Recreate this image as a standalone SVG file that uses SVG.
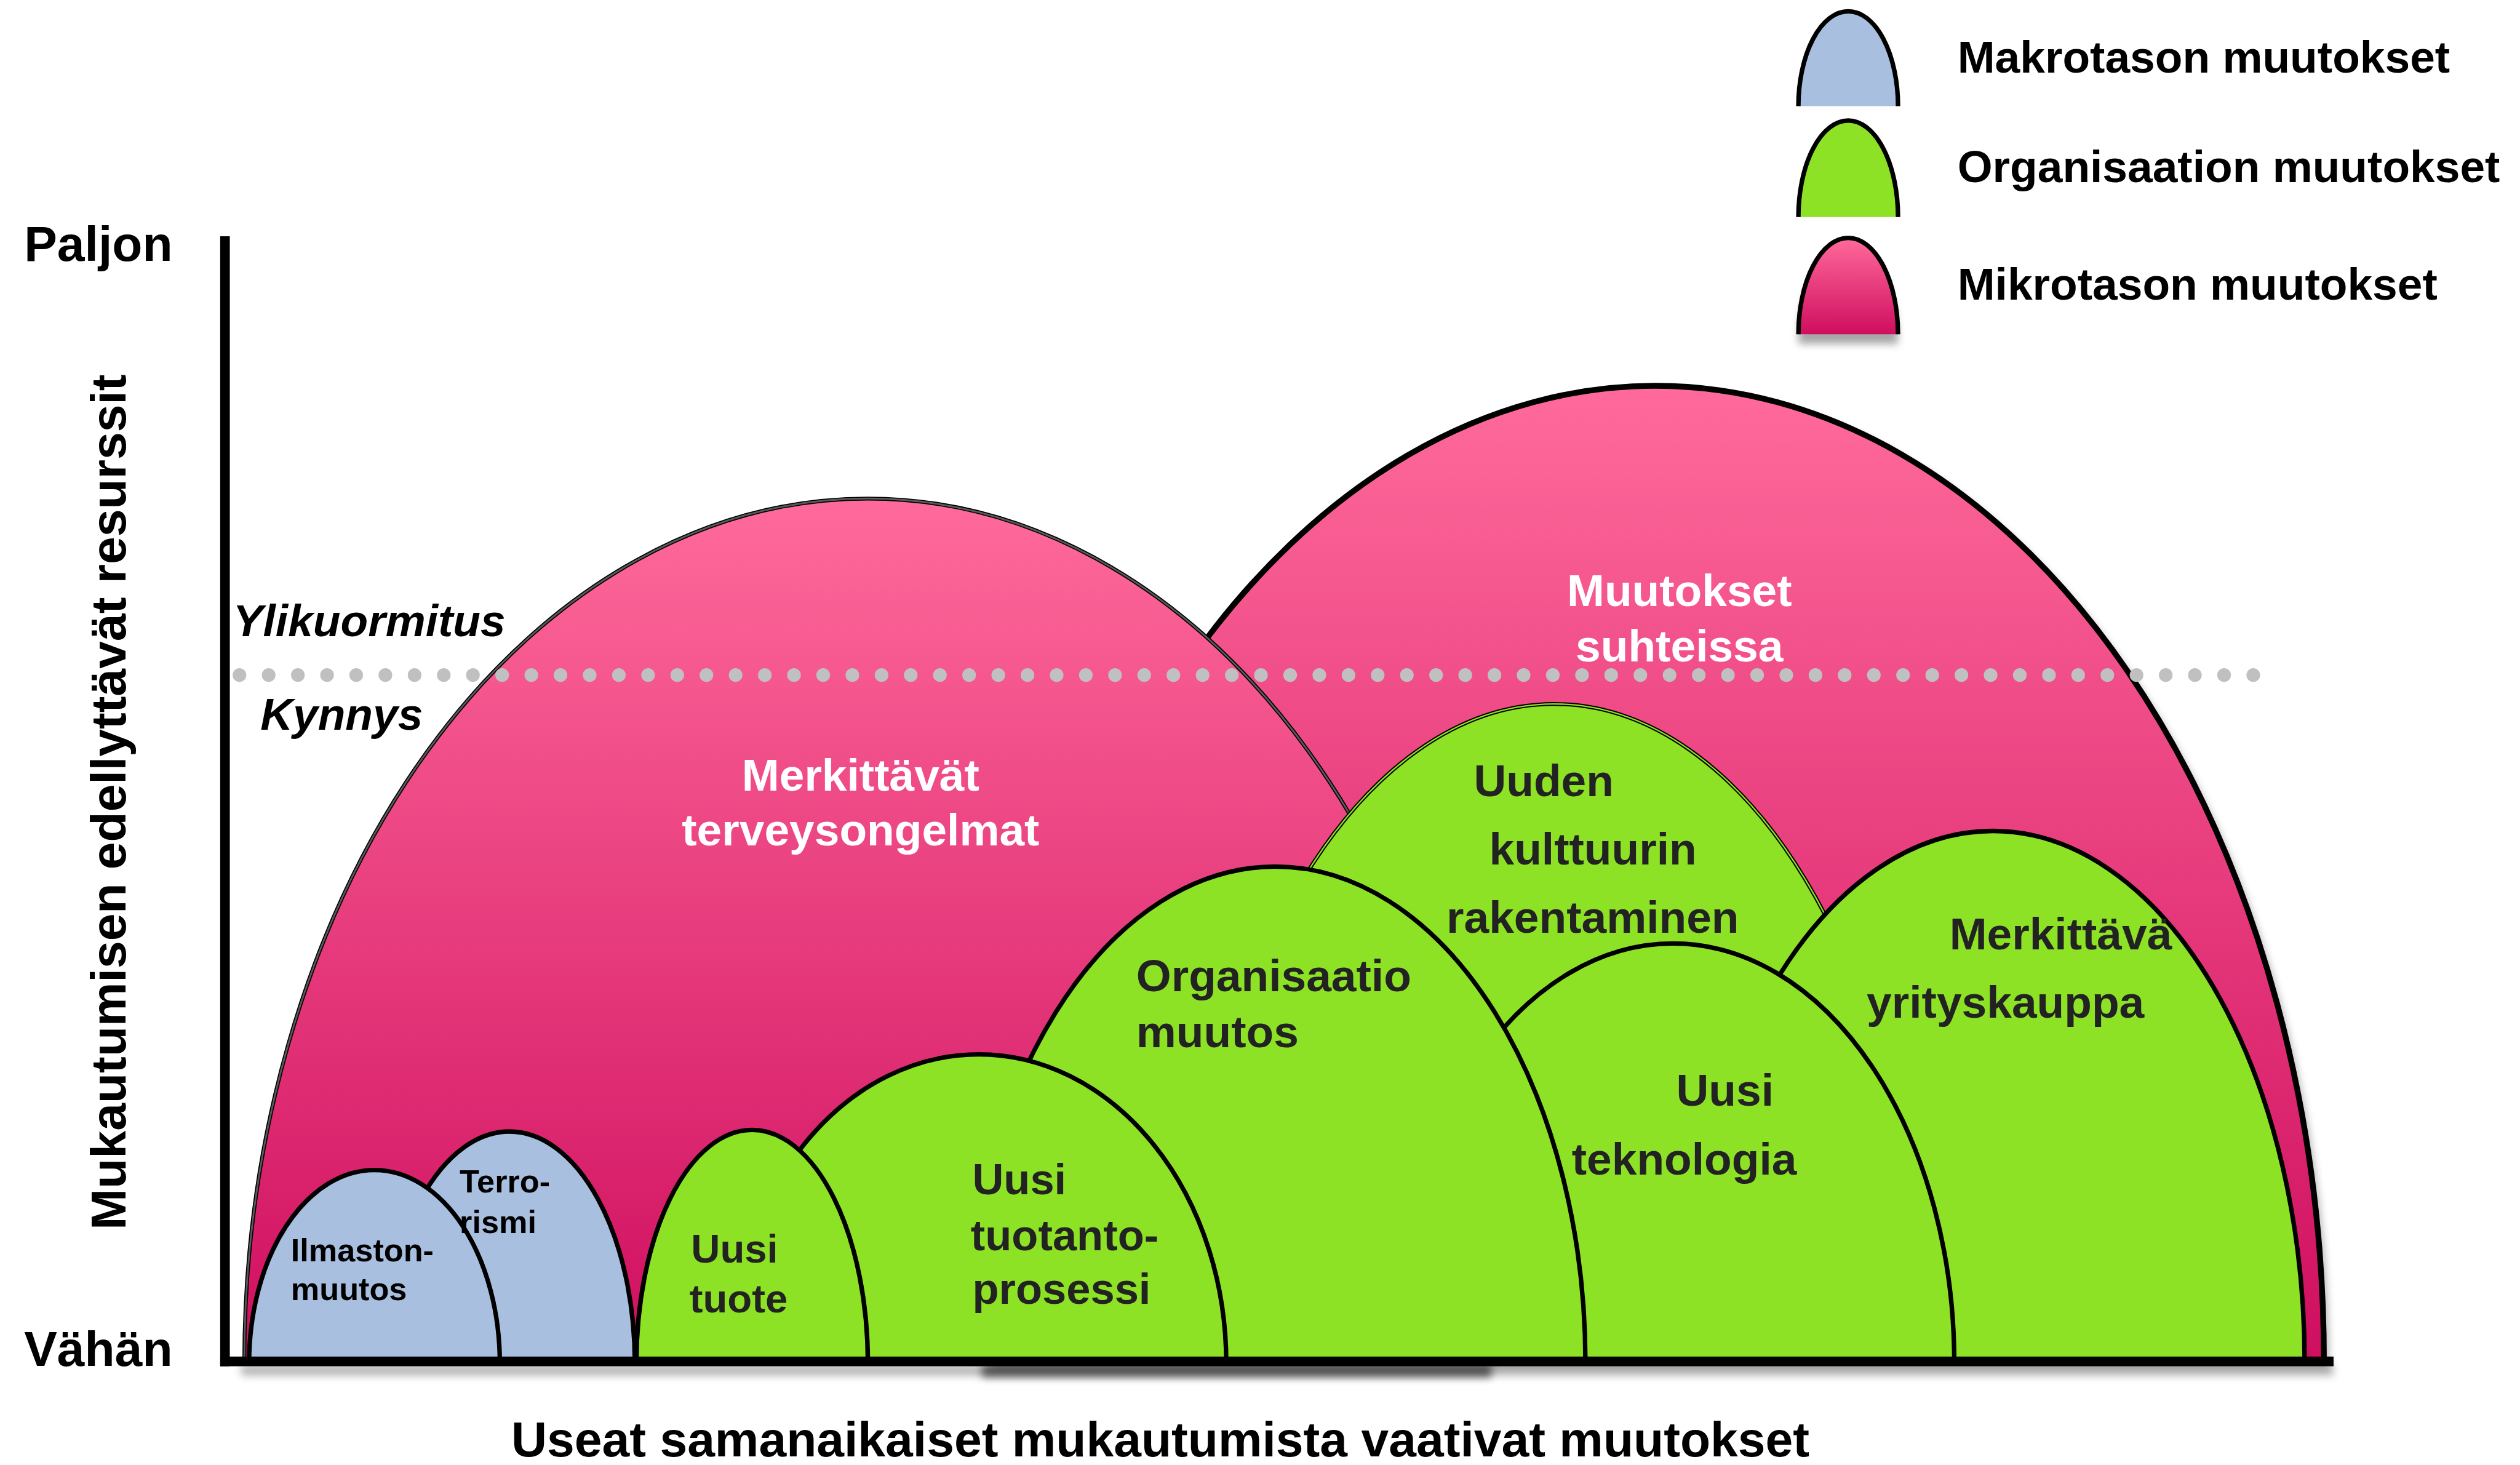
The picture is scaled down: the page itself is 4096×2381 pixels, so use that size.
<svg xmlns="http://www.w3.org/2000/svg" width="4096" height="2381" viewBox="0 0 4096 2381">
<defs>
<linearGradient id="pinkGrad" x1="0" y1="0" x2="0" y2="1">
<stop offset="0" stop-color="#ff6a9b"/>
<stop offset="1" stop-color="#cf0e5f"/>
</linearGradient>
<filter id="blur" x="-20%" y="-100%" width="140%" height="300%">
<feGaussianBlur stdDeviation="2.5"/>
</filter>
<style>
.t{font-family:"Liberation Sans",Arial,Helvetica,sans-serif;font-weight:bold}
.ax{font-size:30.8px;fill:#000}
.it{font-size:28px;font-style:italic;fill:#000}
.lg{font-size:28px;fill:#000}
.pk{font-size:28px;fill:#fff;text-anchor:middle}
.gr{font-size:28px;fill:#222}
.bl{font-size:20px;fill:#000}
.pinkFill{fill:url(#pinkGrad)}
.green{fill:#8de225;stroke:#000;stroke-width:2.8}
.blue{fill:#a9bfe0;stroke:#000;stroke-width:2.8}
.shadow{fill:#000;filter:url(#blur)}
</style>
</defs>
<rect width="4096" height="2381" fill="#fff"/>
<g transform="scale(2.61224)">
<g id="shadows">
<path class="shadow" opacity="0.3" d="M 617,851 A 416,608 0 0 1 1449,851 Z"/>
<rect class="shadow" opacity="0.28" x="150" y="849" width="1302" height="7"/>
<rect class="shadow" opacity="0.55" x="611" y="849" width="317" height="8"/>
<path class="shadow" opacity="0.35" d="M 1119,214 A 31,60 0 0 1 1181,214 Z"/>
</g>

<g id="node-muutokset-suhteissa">
<path class="pinkFill" stroke="#000" stroke-width="3.6" d="M 614,848 A 416,608 0 0 1 1446,848"/>
</g>
<g id="node-terveysongelmat">
<path class="pinkFill" stroke="#000" stroke-width="2.4" d="M 152,848 A 388,538 0 0 1 928,848"/>
<path fill="none" stroke="#5a5a5a" stroke-width="1.1" d="M 152,848 A 388,538 0 0 1 928,848"/>
</g>

<g id="threshold">
<line x1="149" y1="420" x2="1404" y2="420" stroke="#c0c0c0" stroke-width="8.5" stroke-linecap="round" stroke-dasharray="0 18.16"/>
</g>

<g id="node-uuden-kulttuurin">
<path fill="#8de225" stroke="#000" stroke-width="2.4" d="M 737,848 A 230,410 0 0 1 1197,848"/>
<path fill="none" stroke="#8de225" stroke-width="0.9" d="M 737,848 A 230,410 0 0 1 1197,848"/>
</g>
<g id="node-yrityskauppa">
<path class="green" d="M 1046,848 A 194,331 0 0 1 1434,848"/>
</g>
<g id="node-teknologia">
<path class="green" d="M 866,848 A 175,261 0 0 1 1216,848"/>
</g>
<g id="node-organisaatiomuutos">
<path class="green" d="M 600.5,848 A 193,309 0 0 1 986.5,848"/>
</g>
<g id="node-tuotantoprosessi">
<path class="green" d="M 455,848 A 154,192 0 0 1 763,848"/>
</g>
<g id="node-uusi-tuote">
<path class="green" d="M 396,848 A 72,145 0 0 1 540,848"/>
</g>
<g id="node-terrorismi">
<path class="blue" d="M 239,848 A 78,144 0 0 1 395,848"/>
</g>
<g id="node-ilmastonmuutos">
<path class="blue" d="M 155,848 A 78,120 0 0 1 311,848"/>
</g>

<g id="labels" class="t">
<text class="pk" x="535.5" y="492">Merkittävät</text>
<text class="pk" x="535.5" y="526">terveysongelmat</text>
<text class="pk" x="1045" y="377">Muutokset</text>
<text class="pk" x="1045" y="411.5">suhteissa</text>
<text class="gr" x="917" y="495.5">Uuden</text>
<text class="gr" x="926.6" y="537.8">kulttuurin</text>
<text class="gr" x="900" y="580.4">rakentaminen</text>
<text class="gr" x="1213" y="590.6">Merkittävä</text>
<text class="gr" x="1161.5" y="633">yrityskauppa</text>
<text class="gr" x="1043" y="688">Uusi</text>
<text class="gr" x="978" y="730.7">teknologia</text>
<text class="gr" x="707" y="616.6">Organisaatio</text>
<text class="gr" x="707" y="651.4">muutos</text>
<text class="gr" x="605" y="743" style="font-size:27px">Uusi</text>
<text class="gr" x="604" y="778" style="font-size:27px">tuotanto-</text>
<text class="gr" x="605" y="811" style="font-size:27px">prosessi</text>
<text class="gr" x="430" y="785.4" style="font-size:25px">Uusi</text>
<text class="gr" x="429" y="816.5" style="font-size:25px">tuote</text>
<text class="bl" x="286" y="742">Terro-</text>
<text class="bl" x="286" y="767">rismi</text>
<text class="bl" x="181" y="784.6">Ilmaston-</text>
<text class="bl" x="181" y="809">muutos</text>
</g>

<g id="axes">
<line x1="140" y1="147" x2="140" y2="850" stroke="#000" stroke-width="6"/>
<line x1="137" y1="847" x2="1452" y2="847" stroke="#000" stroke-width="6"/>
</g>

<g id="axis-labels" class="t">
<text class="ax" x="15" y="162.5">Paljon</text>
<text class="ax" x="15" y="850">Vähän</text>
<text class="ax" text-anchor="middle" transform="translate(78,499) rotate(-90)">Mukautumisen edellyttävät resurssit</text>
<text class="ax" text-anchor="middle" x="722" y="906">Useat samanaikaiset mukautumista vaativat muutokset</text>
<text class="it" x="145" y="396">Ylikuormitus</text>
<text class="it" x="162" y="454">Kynnys</text>
</g>

<g id="legend">
<g id="legend-makro">
<path class="blue" d="M 1119,66 A 31,59 0 0 1 1181,66"/>
<text class="t lg" x="1218" y="45">Makrotason muutokset</text>
</g>
<g id="legend-organisaatio">
<path class="green" d="M 1119,135 A 31,60 0 0 1 1181,135"/>
<text class="t lg" x="1218" y="113.4">Organisaation muutokset</text>
</g>
<g id="legend-mikro">
<path class="pinkFill" stroke="#000" stroke-width="2.8" d="M 1119,208 A 31,60 0 0 1 1181,208"/>
<text class="t lg" x="1218" y="186.5">Mikrotason muutokset</text>
</g>
</g>
</g>
</svg>
